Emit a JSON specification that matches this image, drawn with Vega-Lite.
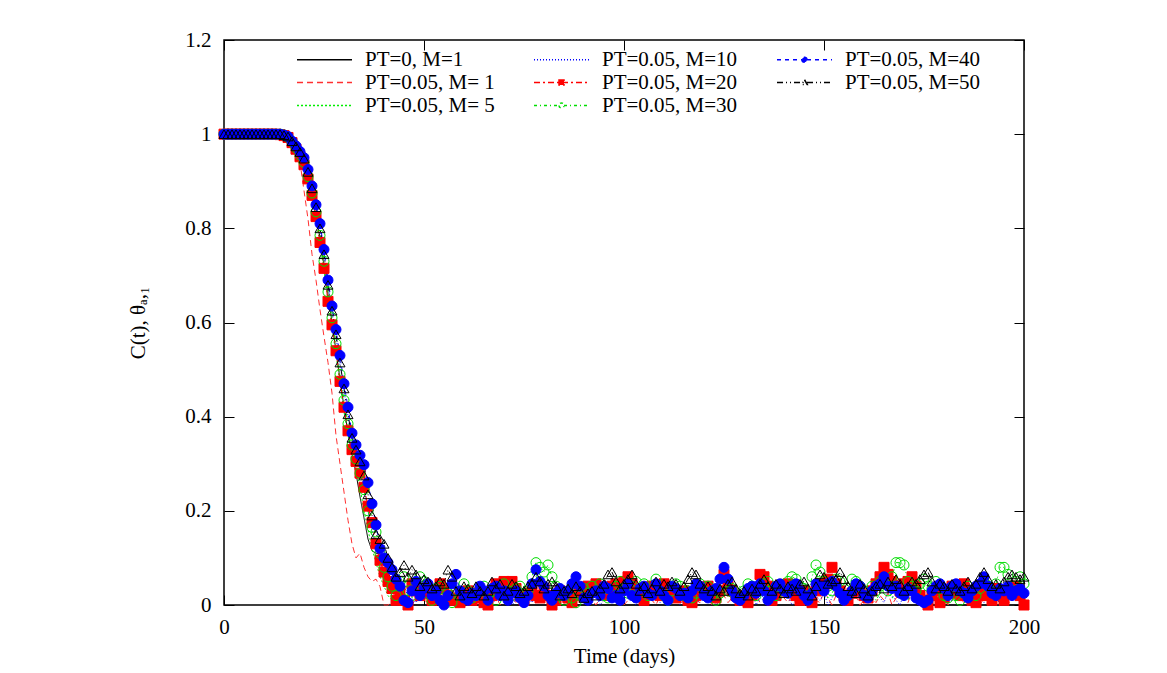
{
 "$schema": "https://vega.github.io/schema/vega-lite/v6.json",
 "width": 800,
 "height": 565,
 "autosize": {"type": "none"},
 "padding": {"left": 224, "top": 40, "right": 143, "bottom": 68},
 "background": "white",
 "config": {
  "font": "Liberation Serif",
  "view": {"stroke": "black", "strokeWidth": 1.5},
  "axis": {"labelFont": "Liberation Serif", "labelFontSize": 21, "labelColor": "black", "labelFlush": false, "titleFont": "Liberation Serif", "titleFontSize": 21, "titleFontWeight": "normal", "titleColor": "black", "grid": false, "domain": false, "tickColor": "black", "tickWidth": 1},
  "legend": {"orient": "none", "legendX": 90, "legendY": 9, "columns": 3, "columnPadding": 36, "rowPadding": 1, "padding": 0, "labelFont": "Liberation Serif", "labelFontSize": 21, "labelColor": "black", "labelLimit": 300, "labelOffset": 30, "symbolSize": 100, "symbolStrokeWidth": 1.5, "symbolOpacity": 1}
 },
 "data": {
  "values": "t,a,b,c,d,e,f,g,h\n0,1,1,1,1,1,1,1,1\n1,1,1,1,1,1,1,1,1\n2,1,1,1,1,1,1,1,1\n3,1,1,1,1,1,1,1,1\n4,1,1,1,1,1,1,1,1\n5,1,1,1,1,1,1,1,1\n6,1,1,1,1,1,1,1,1\n7,1,1,1,1,1,1,1,1\n8,1,1,1,1,1,1,1,1\n9,1,1,1,1,1,1,1,1\n10,1,1,1,1,1,1,1,1\n11,1,1,1,1,1,1,1,1\n12,1,1,1,1,1,1,1,1\n13,1,1,1,1,1,1,1,1\n14,1,0.998,1,1,0.999,1,1,1\n15,0.998,0.995,0.997,0.998,0.997,0.998,0.998,0.998\n16,0.994,0.99,0.993,0.995,0.993,0.994,0.995,0.995\n17,0.985,0.98,0.983,0.985,0.982,0.984,0.985,0.985\n18,0.972,0.96,0.97,0.974,0.968,0.971,0.975,0.974\n19,0.958,0.94,0.955,0.962,0.952,0.956,0.963,0.962\n20,0.94,0.88,0.935,0.946,0.935,0.94,0.95,0.948\n21,0.91,0.82,0.905,0.92,0.905,0.91,0.925,0.92\n22,0.87,0.745,0.865,0.885,0.87,0.875,0.89,0.885\n23,0.825,0.69,0.82,0.845,0.825,0.835,0.85,0.845\n24,0.78,0.627,0.77,0.8,0.77,0.785,0.81,0.8\n25,0.72,0.57,0.71,0.745,0.715,0.73,0.755,0.745\n26,0.66,0.515,0.65,0.68,0.645,0.665,0.69,0.68\n27,0.6,0.45,0.59,0.625,0.595,0.61,0.635,0.625\n28,0.54,0.36,0.53,0.57,0.54,0.555,0.585,0.575\n29,0.48,0.3,0.47,0.51,0.475,0.49,0.53,0.515\n30,0.42,0.24,0.41,0.455,0.42,0.435,0.47,0.46\n31,0.365,0.18,0.36,0.4,0.37,0.385,0.42,0.405\n32,0.32,0.13,0.32,0.35,0.33,0.34,0.365,0.355\n33,0.28,0.1,0.29,0.32,0.305,0.31,0.34,0.33\n34,0.23,0.11,0.25,0.29,0.28,0.28,0.318,0.305\n35,0.185,0.08,0.2,0.25,0.25,0.245,0.298,0.275\n36,0.14,0.06,0.16,0.2,0.21,0.2,0.26,0.235\n37,0.115,0.05,0.12,0.16,0.175,0.165,0.215,0.19\n38,0.11,0.055,0.09,0.12,0.13,0.155,0.17,0.15\n39,0.108,0.039,0.06,0.09,0.095,0.11,0.12,0.14\n40,0.09,0,0.04,0.06,0.07,0.08,0.1,0.13\n41,0.068,0,0.02,0.04,0.05,0.06,0.09,0.1\n42,0.053,0.01,0.01,0.02,0.035,0.04,0.075,0.08\n43,0.02,0.015,0,0.01,0.01,0.02,0.055,0.06\n44,0,0.005,0.03,0.01,0.03,0.05,0.04,0.07\n45,0,0.02,0.04,0.02,0.01,0.06,0.01,0.085\n46,0,0.01,0.02,0.03,0,0.03,0.005,0.06\n47,0,0,0.015,0.015,0.045,0.02,0.03,0.075\n48,0,0.015,0.035,0.005,0.03,0.045,0.05,0.065\n49,0,0.03,0.025,0.02,0.02,0.06,0.02,0.04\n50,0,0.01,0.01,0.025,0.035,0.05,0.035,0.055\n51,0,0.005,0.03,0.01,0.025,0.025,0.045,0.05\n52,0,0.02,0.04,0,0.01,0.01,0.02,0.035\n53,0,0.01,0.02,0.015,0.03,0.035,0.03,0.04\n54,0,0.025,0.01,0.03,0.045,0.04,0.01,0.05\n55,0,0,0.025,0.02,0.035,0.015,0,0.045\n56,0,0.01,0.035,0.01,0.02,0.025,0.02,0.075\n57,0,0.02,0.02,0.025,0.01,0.005,0.045,0.06\n58,0,0.005,0.015,0.015,0.015,0.03,0.065,0.03\n59,0,0.015,0.03,0.005,0.005,0.02,0.03,0.02\n60,0,0.03,0.04,0.02,0.02,0.045,0.015,0.04\n61,0,0.01,0.025,0.03,0.03,0.03,0.01,0.035\n62,0,0,0.01,0.01,0.01,0.015,0.025,0.025\n63,0,0.02,0.02,0,0.025,0.02,0.02,0.04\n64,0,0.01,0.035,0.015,0.015,0.035,0.04,0.03\n65,0,0.025,0.03,0.025,0.005,0.04,0.03,0.02\n66,0,0.005,0.015,0.02,0,0.02,0.01,0.03\n67,0,0.015,0.025,0.005,0.02,0.03,0.035,0.05\n68,0,0.02,0.04,0.01,0.045,0.01,0.04,0.035\n69,0,0,0.02,0.03,0.04,0.025,0.02,0.045\n70,0,0.01,0.01,0.02,0.05,0.045,0.03,0.02\n71,0,0.03,0.03,0.015,0.045,0.03,0.01,0.03\n72,0,0.015,0.035,0,0.05,0.02,0.025,0.045\n73,0,0.005,0.02,0.01,0.035,0.035,0.03,0.04\n74,0,0.02,0.025,0.025,0.02,0.04,0.015,0.025\n75,0,0.01,0.04,0.03,0.01,0.025,0.005,0.03\n76,0,0,0.03,0.015,0.025,0.03,0.02,0.04\n77,0,0.02,0.015,0.005,0.03,0.06,0.045,0.045\n78,0,0.03,0.02,0.02,0.02,0.09,0.075,0.06\n79,0,0.01,0.035,0.01,0.015,0.08,0.05,0.05\n80,0,0.015,0.045,0.025,0.035,0.07,0.04,0.035\n81,0,0.005,0.03,0.03,0.02,0.085,0.02,0.045\n82,0,0.02,0.02,0.01,0,0.06,0.01,0.05\n83,0,0.01,0.01,0,0.01,0.04,0.025,0.04\n84,0,0.025,0.025,0.02,0.03,0.02,0.035,0.02\n85,0,0,0.035,0.015,0.025,0.01,0.02,0.03\n86,0,0.015,0.02,0.025,0.015,0.03,0.03,0.035\n87,0,0.02,0.015,0.005,0.005,0.015,0.045,0.025\n88,0,0.01,0.03,0.01,0.02,0.005,0.06,0.04\n89,0,0.005,0.04,0.03,0.03,0.02,0.04,0.03\n90,0,0.02,0.025,0.02,0.02,0.035,0.015,0.015\n91,0,0.03,0.01,0.01,0.04,0.025,0.01,0.025\n92,0,0.01,0.02,0.015,0.035,0.04,0.025,0.03\n93,0,0,0.035,0.025,0.045,0.03,0.03,0.02\n94,0,0.015,0.03,0,0.03,0.045,0.02,0.035\n95,0,0.025,0.015,0.01,0.025,0.02,0.04,0.045\n96,0,0.01,0.025,0.02,0.02,0.015,0.035,0.065\n97,0,0.005,0.04,0.03,0.04,0.03,0.015,0.07\n98,0,0.02,0.02,0.015,0.045,0.04,0.02,0.05\n99,0,0.015,0.01,0.005,0.035,0.05,0.01,0.035\n100,0,0,0.03,0.025,0.05,0.035,0.03,0.045\n101,0,0.01,0.035,0.02,0.06,0.025,0.045,0.055\n102,0,0.025,0.02,0.01,0.045,0.04,0.02,0.065\n103,0,0.02,0.015,0,0.03,0.05,0.015,0.045\n104,0,0.005,0.025,0.015,0.02,0.03,0.035,0.03\n105,0,0.015,0.04,0.03,0.01,0.045,0.04,0.04\n106,0,0.03,0.03,0.02,0.025,0.02,0.025,0.025\n107,0,0.01,0.01,0.01,0.04,0.035,0.02,0.035\n108,0,0,0.02,0.025,0.03,0.055,0.045,0.05\n109,0,0.02,0.035,0.005,0.02,0.03,0.03,0.03\n110,0,0.015,0.025,0.015,0.045,0.02,0.02,0.045\n111,0,0.005,0.015,0.02,0.035,0.01,0.01,0.04\n112,0,0.025,0.03,0.03,0.025,0.03,0.04,0.05\n113,0,0.01,0.04,0.01,0.015,0.045,0.035,0.045\n114,0,0.02,0.02,0,0.02,0.04,0.02,0.03\n115,0,0,0.01,0.02,0.03,0.02,0.025,0.04\n116,0,0.015,0.025,0.025,0.01,0.03,0.015,0.055\n117,0,0.03,0.035,0.015,0.005,0.015,0.03,0.07\n118,0,0.01,0.03,0.005,0.02,0.025,0.045,0.065\n119,0,0.005,0.015,0.01,0.03,0.045,0.04,0.045\n120,0,0.02,0.02,0.03,0.025,0.03,0.02,0.035\n121,0,0.015,0.04,0.02,0.04,0.04,0.015,0.04\n122,0,0,0.025,0.015,0.02,0.02,0.03,0.03\n123,0,0.025,0.01,0,0.015,0.01,0.035,0.02\n124,0,0.01,0.03,0.01,0.03,0.025,0.055,0.035\n125,0,0.02,0.035,0.025,0.065,0.045,0.08,0.03\n126,0,0.005,0.02,0.03,0.04,0.03,0.055,0.045\n127,0,0.015,0.015,0.015,0.03,0.035,0.03,0.05\n128,0,0.03,0.025,0.005,0.02,0.02,0.015,0.035\n129,0,0.01,0.04,0.02,0.01,0.015,0.01,0.025\n130,0,0,0.03,0.01,0.015,0.03,0.02,0.03\n131,0,0.02,0.01,0.025,0.005,0.045,0.035,0.02\n132,0,0.01,0.02,0.03,0.02,0.04,0.04,0.035\n133,0,0.025,0.035,0,0.035,0.02,0.025,0.03\n134,0,0.005,0.025,0.015,0.065,0.035,0.045,0.045\n135,0,0.015,0.015,0.02,0.06,0.045,0.03,0.055\n136,0,0.02,0.03,0.01,0.04,0.05,0.01,0.04\n137,0,0,0.04,0.025,0.01,0.03,0.02,0.03\n138,0,0.01,0.02,0.005,0.02,0.02,0.04,0.045\n139,0,0.03,0.01,0.03,0.035,0.04,0.045,0.035\n140,0,0.015,0.025,0.015,0.03,0.03,0.03,0.025\n141,0,0.005,0.035,0.02,0.045,0.05,0.025,0.04\n142,0,0.02,0.03,0,0.035,0.06,0.04,0.035\n143,0,0.01,0.015,0.01,0.02,0.055,0.045,0.03\n144,0,0.025,0.02,0.025,0.01,0.04,0.03,0.045\n145,0,0,0.04,0.015,0.03,0.035,0.02,0.05\n146,0,0.015,0.025,0.03,0.02,0.02,0.01,0.035\n147,0,0.02,0.01,0.005,0.005,0.06,0.025,0.02\n148,0,0.01,0.03,0.02,0.03,0.085,0.045,0.04\n149,0,0.005,0.035,0.01,0.045,0.07,0.04,0.065\n150,0,0.03,0.02,0.025,0.04,0.05,0.03,0.06\n151,0,0.015,0.015,0,0.055,0.04,0.045,0.045\n152,0,0,0.025,0.015,0.08,0.03,0.05,0.05\n153,0,0.02,0.04,0.03,0.045,0.055,0.04,0.055\n154,0,0.01,0.03,0.02,0.03,0.05,0.025,0.07\n155,0,0.025,0.01,0.01,0.02,0.035,0.01,0.055\n156,0,0.005,0.02,0.005,0.01,0.02,0.02,0.04\n157,0,0.015,0.035,0.025,0.025,0.055,0.03,0.03\n158,0,0.02,0.025,0.015,0.035,0.05,0.045,0.025\n159,0,0,0.015,0.03,0.03,0.04,0.04,0.045\n160,0,0.01,0.03,0,0.02,0.03,0.02,0.035\n161,0,0.03,0.04,0.02,0.015,0.02,0.015,0.02\n162,0,0.015,0.02,0.01,0.03,0.04,0.03,0.03\n163,0,0.005,0.01,0.025,0.045,0.03,0.04,0.04\n164,0,0.02,0.025,0.015,0.06,0.05,0.045,0.045\n165,0,0.01,0.035,0.005,0.08,0.045,0.06,0.035\n166,0,0.025,0.03,0.03,0.065,0.03,0.04,0.05\n167,0,0,0.015,0.02,0.05,0.06,0.035,0.04\n168,0,0.015,0.02,0.01,0.04,0.09,0.04,0.055\n169,0,0.02,0.04,0,0.03,0.09,0.025,0.045\n170,0,0.01,0.025,0.025,0.045,0.085,0.02,0.03\n171,0,0.005,0.01,0.015,0.05,0.05,0.035,0.04\n172,0,0.03,0.03,0.03,0.06,0.04,0.03,0.05\n173,0,0.015,0.035,0.005,0.04,0.03,0.015,0.045\n174,0,0,0.02,0.02,0.02,0.045,0.01,0.055\n175,0,0.02,0.015,0.01,0.01,0.055,0.005,0.065\n176,0,0.01,0.025,0.025,0,0.04,0.01,0.07\n177,0,0.025,0.04,0,0.02,0.035,0.03,0.05\n178,0,0.005,0.03,0.015,0.03,0.05,0.04,0.035\n179,0,0.015,0.01,0.03,0.005,0.035,0.045,0.045\n180,0,0.02,0.02,0.02,0.015,0.02,0.035,0.04\n181,0,0,0.035,0.005,0.03,0.015,0.02,0.03\n182,0,0.01,0.025,0.01,0.04,0.03,0.04,0.045\n183,0,0.03,0.015,0.025,0.025,0.02,0.045,0.035\n184,0,0.015,0.03,0.015,0.02,0.01,0.03,0.03\n185,0,0.005,0.04,0.03,0.045,0.025,0.025,0.04\n186,0,0.02,0.02,0,0.03,0.04,0.015,0.05\n187,0,0.01,0.01,0.02,0.01,0.03,0.03,0.035\n188,0,0.025,0.025,0.01,0.005,0.02,0.04,0.045\n189,0,0,0.035,0.025,0.02,0.035,0.045,0.06\n190,0,0.015,0.03,0.005,0.03,0.05,0.06,0.07\n191,0,0.02,0.015,0.015,0.02,0.04,0.04,0.055\n192,0,0.01,0.02,0.03,0.01,0.03,0.025,0.04\n193,0,0.005,0.04,0.02,0.035,0.045,0.02,0.045\n194,0,0.03,0.025,0,0.02,0.08,0.035,0.035\n195,0,0.015,0.01,0.01,0.01,0.08,0.03,0.05\n196,0,0,0.03,0.025,0.025,0.065,0.04,0.06\n197,0,0.02,0.035,0.015,0.03,0.04,0.02,0.065\n198,0,0.01,0.02,0.03,0.04,0.05,0.03,0.06\n199,0,0.025,0.015,0.005,0.02,0.06,0.035,0.055\n200,0,0.005,0.025,0.02,0,0.045,0.025,0.06",
  "format": {"type": "csv", "parse": {"t": "number", "a": "number", "b": "number", "c": "number", "d": "number", "e": "number", "f": "number", "g": "number", "h": "number"}}
 },
 "transform": [{"fold": ["a", "b", "c", "d", "e", "f", "g", "h"], "as": ["key", "value"]}],
 "layer": [
  {
   "mark": {"type": "line", "strokeWidth": 1},
   "encoding": {
    "x": {"field": "t", "type": "quantitative", "scale": {"domain": [0, 200], "nice": false, "zero": false},
          "axis": {"orient": "bottom", "values": [0, 50, 100, 150, 200], "format": "d", "tickSize": -10, "labelPadding": 21, "title": "Time (days)", "titlePadding": 8}},
    "y": {"field": "value", "type": "quantitative", "scale": {"domain": [0, 1.2], "nice": false},
          "axis": {"orient": "left", "values": [0, 0.2, 0.4, 0.6, 0.8, 1, 1.2], "format": "~g", "tickSize": -10, "labelPadding": 23, "title": "C(t), θₐ,₁", "titlePadding": 36}},
    "stroke": {"field": "key", "type": "nominal",
               "scale": {"domain": ["a", "b", "c", "d", "e", "f", "g", "h"], "range": ["#000000", "#ff3030", "#00ee00", "#0000ff", "#ff0000", "#00dd00", "#0000ff", "#000000"]},
               "legend": {"title": null, "labelExpr": "datum.label == 'a' ? 'PT=0, M=1' : datum.label == 'b' ? 'PT=0.05, M= 1' : datum.label == 'c' ? 'PT=0.05, M= 5' : datum.label == 'd' ? 'PT=0.05, M=10' : datum.label == 'e' ? 'PT=0.05, M=20' : datum.label == 'f' ? 'PT=0.05, M=30' : datum.label == 'g' ? 'PT=0.05, M=40' : 'PT=0.05, M=50'",
                          "encode": {"symbols": {"update": {"shape": {"signal": "datum.value=='e' ? 'M-5.5,0H5.5M-0.5,-0.5H0.5V0.5H-0.5Z' : (datum.value=='f' || datum.value=='g') ? 'M-5.5,0H-0.5M0.5,0H5.5M-0.5,0A0.5,0.5 0 1,0 0.5,0A0.5,0.5 0 1,0 -0.5,0Z' : datum.value=='h' ? 'M-5.5,0H-0.5M0.5,0H5.5M0,-0.55L0.55,0.4H-0.55Z' : 'M-5.5,0H5.5'"}}}}}},
    "strokeDash": {"field": "key", "type": "nominal",
               "scale": {"domain": ["a", "b", "c", "d", "e", "f", "g", "h"], "range": [[1, 0], [6, 4], [2, 2], [1, 2], [6, 3, 2, 3], [3, 3, 1, 3], [4, 4], [6, 3, 1, 3, 1, 3]]},
               "legend": {"title": null, "labelExpr": "datum.label == 'a' ? 'PT=0, M=1' : datum.label == 'b' ? 'PT=0.05, M= 1' : datum.label == 'c' ? 'PT=0.05, M= 5' : datum.label == 'd' ? 'PT=0.05, M=10' : datum.label == 'e' ? 'PT=0.05, M=20' : datum.label == 'f' ? 'PT=0.05, M=30' : datum.label == 'g' ? 'PT=0.05, M=40' : 'PT=0.05, M=50'",
                          "encode": {"symbols": {"update": {"shape": {"signal": "datum.value=='e' ? 'M-5.5,0H5.5M-0.5,-0.5H0.5V0.5H-0.5Z' : (datum.value=='f' || datum.value=='g') ? 'M-5.5,0H-0.5M0.5,0H5.5M-0.5,0A0.5,0.5 0 1,0 0.5,0A0.5,0.5 0 1,0 -0.5,0Z' : datum.value=='h' ? 'M-5.5,0H-0.5M0.5,0H5.5M0,-0.55L0.55,0.4H-0.55Z' : 'M-5.5,0H5.5'"}}}}}}
   }
  },
  {
   "transform": [{"filter": {"field": "key", "oneOf": ["e", "f", "g", "h"]}}],
   "mark": {"type": "point", "filled": true, "size": 100, "strokeWidth": 1, "opacity": 1},
   "encoding": {
    "x": {"field": "t", "type": "quantitative", "scale": {"domain": [0, 200], "nice": false, "zero": false},
          "axis": {"orient": "top", "values": [0, 50, 100, 150, 200], "labels": false, "title": null, "tickSize": -10}},
    "y": {"field": "value", "type": "quantitative", "scale": {"domain": [0, 1.2], "nice": false},
          "axis": {"orient": "right", "values": [0, 0.2, 0.4, 0.6, 0.8, 1, 1.2], "labels": false, "title": null, "tickSize": -10}},
    "stroke": {"field": "key", "type": "nominal",
               "scale": {"domain": ["a", "b", "c", "d", "e", "f", "g", "h"], "range": ["#000000", "#ff3030", "#00ee00", "#0000ff", "#ff0000", "#00dd00", "#0000ff", "#000000"]},
               "legend": {"title": null, "labelExpr": "datum.label == 'a' ? 'PT=0, M=1' : datum.label == 'b' ? 'PT=0.05, M= 1' : datum.label == 'c' ? 'PT=0.05, M= 5' : datum.label == 'd' ? 'PT=0.05, M=10' : datum.label == 'e' ? 'PT=0.05, M=20' : datum.label == 'f' ? 'PT=0.05, M=30' : datum.label == 'g' ? 'PT=0.05, M=40' : 'PT=0.05, M=50'",
                          "encode": {"symbols": {"update": {"shape": {"signal": "datum.value=='e' ? 'M-5.5,0H5.5M-0.5,-0.5H0.5V0.5H-0.5Z' : (datum.value=='f' || datum.value=='g') ? 'M-5.5,0H-0.5M0.5,0H5.5M-0.5,0A0.5,0.5 0 1,0 0.5,0A0.5,0.5 0 1,0 -0.5,0Z' : datum.value=='h' ? 'M-5.5,0H-0.5M0.5,0H5.5M0,-0.55L0.55,0.4H-0.55Z' : 'M-5.5,0H5.5'"}}}}}},
    "fill": {"field": "key", "type": "nominal",
               "scale": {"domain": ["a", "b", "c", "d", "e", "f", "g", "h"], "range": ["transparent", "transparent", "transparent", "transparent", "#ff0000", "transparent", "#0000ff", "transparent"]},
               "legend": {"title": null, "labelExpr": "datum.label == 'a' ? 'PT=0, M=1' : datum.label == 'b' ? 'PT=0.05, M= 1' : datum.label == 'c' ? 'PT=0.05, M= 5' : datum.label == 'd' ? 'PT=0.05, M=10' : datum.label == 'e' ? 'PT=0.05, M=20' : datum.label == 'f' ? 'PT=0.05, M=30' : datum.label == 'g' ? 'PT=0.05, M=40' : 'PT=0.05, M=50'",
                          "encode": {"symbols": {"update": {"shape": {"signal": "datum.value=='e' ? 'M-5.5,0H5.5M-0.5,-0.5H0.5V0.5H-0.5Z' : (datum.value=='f' || datum.value=='g') ? 'M-5.5,0H-0.5M0.5,0H5.5M-0.5,0A0.5,0.5 0 1,0 0.5,0A0.5,0.5 0 1,0 -0.5,0Z' : datum.value=='h' ? 'M-5.5,0H-0.5M0.5,0H5.5M0,-0.55L0.55,0.4H-0.55Z' : 'M-5.5,0H5.5'"}}}}}},
    "shape": {"field": "key", "type": "nominal",
               "scale": {"domain": ["e", "f", "g", "h"], "range": ["square", "circle", "circle", "triangle-up"]},
               "legend": null},
    "order": {"field": "key", "type": "ordinal"}
   }
  }
 ],
 "resolve": {"axis": {"x": "independent", "y": "independent"}, "scale": {"shape": "independent"}, "legend": {"shape": "independent"}}
}
